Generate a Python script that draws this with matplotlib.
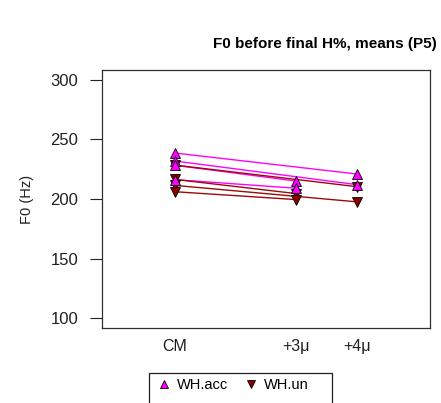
import matplotlib
matplotlib.use("Agg")
import matplotlib.pyplot as plt
from matplotlib.lines import Line2D
from matplotlib.patches import Rectangle

# ---- data ----
categories = ['CM', '+3\u03bc', '+4\u03bc']
cat_pos = [1, 3, 4]
y_ticks = [100, 150, 200, 250, 300]

acc_cm = [238.5, 231.8, 228.2, 216.2]
acc_end = [220.9, 212.0, 215.0, 209.0]
acc_target = ['+4\u03bc', '+4\u03bc', '+3\u03bc', '+3\u03bc']

un_cm = [228.4, 216.4, 211.4, 206.1]
un_end = [210.3, 204.5, 197.6, 199.5]
un_target = ['+4\u03bc', '+3\u03bc', '+4\u03bc', '+3\u03bc']

acc_line = '#FF00FF'
un_line = '#9A0A0A'
acc_fill = '#FF00FF'
un_fill = '#8B0000'

plt.rcParams['font.family'] = ['Liberation Sans', 'DejaVu Sans']

W, H = 441, 403
fig = plt.figure(figsize=(W / 100, H / 100), dpi=100)
ax = fig.add_axes([102 / W, 1 - 328 / H, (430 - 102) / W, (328 - 70) / H])

pos = dict(zip(categories, cat_pos))

for c, e, t in zip(acc_cm, acc_end, acc_target):
    ax.plot([pos['CM'], pos[t]], [c, e], color=acc_line, lw=1, zorder=2)
for c, e, t in zip(un_cm, un_end, un_target):
    ax.plot([pos['CM'], pos[t]], [c, e], color=un_line, lw=1, zorder=2)

ms = 7.3
for c, e, t in zip(acc_cm, acc_end, acc_target):
    ax.plot([pos['CM'], pos[t]], [c, e], ls='none', marker='^', ms=ms,
            mfc=acc_fill, mec='black', mew=0.6, zorder=4)
for c, e, t in zip(un_cm, un_end, un_target):
    ax.plot([pos['CM'], pos[t]], [c, e], ls='none', marker='v', ms=ms,
            mfc=un_fill, mec='black', mew=0.6, zorder=3)

ax.set_xlim(-0.2, 5.2)
ax.set_ylim(92, 308)
ax.set_yticks(y_ticks)
ax.set_yticklabels([str(v) for v in y_ticks])
ax.set_xticks(cat_pos)
ax.set_xticklabels(categories)
ax.tick_params(axis='y', direction='out', length=9, width=0.8, pad=8,
               labelsize=12, colors='#202020')
ax.tick_params(axis='x', length=0, pad=8, labelsize=11.5, colors='#202020')
for s in ax.spines.values():
    s.set_color('#303030')
    s.set_linewidth(0.9)

ax.set_ylabel('F0 (Hz)', fontsize=10.5, color='#202020', labelpad=12)

fig.text(325 / W, 1 - 44 / H, 'F0 before final H%, means (P5)',
         ha='center', va='center', fontsize=11, fontweight='bold')

# legend (clipped at bottom, like the reference)
fig.patches.append(Rectangle((149 / W, -0.05), (332 - 149) / W, 0.05 + (1 - 373 / H),
                             transform=fig.transFigure, fill=False,
                             edgecolor='#202020', lw=0.9))
handles = [Line2D([], [], ls='none', marker='^', ms=6, mfc=acc_fill, mec='black', mew=0.6),
           Line2D([], [], ls='none', marker='v', ms=6, mfc=un_fill, mec='black', mew=0.6)]
fig.legend(handles, ['WH.acc', 'WH.un'], loc='center left',
           bbox_to_anchor=(157 / W, 1 - 385 / H), ncol=2, frameon=False,
           fontsize=10.5, handlelength=1.0, handletextpad=0.4, columnspacing=1.0,
           borderpad=0, borderaxespad=0)

fig.savefig('out.png', dpi=100, facecolor='white')
